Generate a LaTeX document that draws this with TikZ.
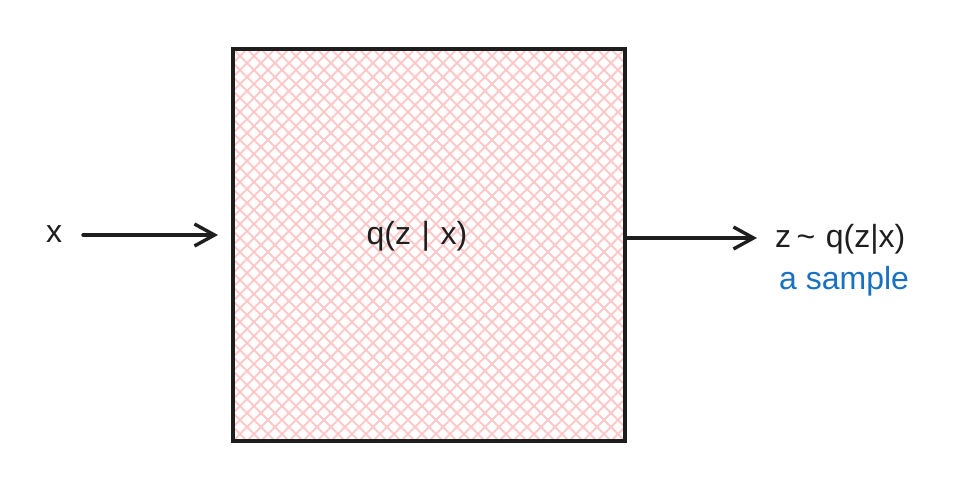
\documentclass[tikz,border=0pt]{standalone}
\usepackage{fontspec}
\setmainfont{Liberation Sans}
\usetikzlibrary{arrows.meta}
\definecolor{hatch}{HTML}{FFC9C9}
\definecolor{ink}{HTML}{1E1E1E}
\definecolor{blueink}{HTML}{1971C2}
\tikzset{
  conn/.style={draw=ink, line width=3.4pt, line cap=round, -{Straight Barb[length=20pt,width=22pt,line width=3.4pt]}},
  lbl/.style={text=ink, font=\fontsize{32}{36}\selectfont, inner sep=0pt},
}
\begin{document}
\begin{tikzpicture}[x=1pt,y=-1pt]
\useasboundingbox (0,0) rectangle (954,495);
\fill[white] (0,0) rectangle (954,495);
% hatched box
\begin{scope}
\clip (233,49) rectangle (625,441);
\foreach \i in {-406,-392,...,406} {
  \draw[hatch, line width=1.8pt] (233+\i,49) -- ++(392,392);
  \draw[hatch, line width=1.8pt] (625-\i,49) -- ++(-392,392);
}
\end{scope}
\node[draw=ink, line width=3.6pt, minimum width=392pt, minimum height=392pt, inner sep=0pt] (box) at (429,245) {};
\node[lbl] (q) at (417,236) {q(z\,\,|\,\,x)};
\node[lbl] (x) at (54,234) {x};
\node[lbl, anchor=west] (z) at (775,239) {z\,\char"7E\,\,q(z|x)};
\node[lbl, text=blueink, anchor=north west] (s) at (779,266) {a sample};
\coordinate (in) at (218,235);
\coordinate (outs) at (625,238);
\draw[conn] (83,235) -- (in);
\draw[conn] (outs) -- (757,238);
\end{tikzpicture}
\end{document}
